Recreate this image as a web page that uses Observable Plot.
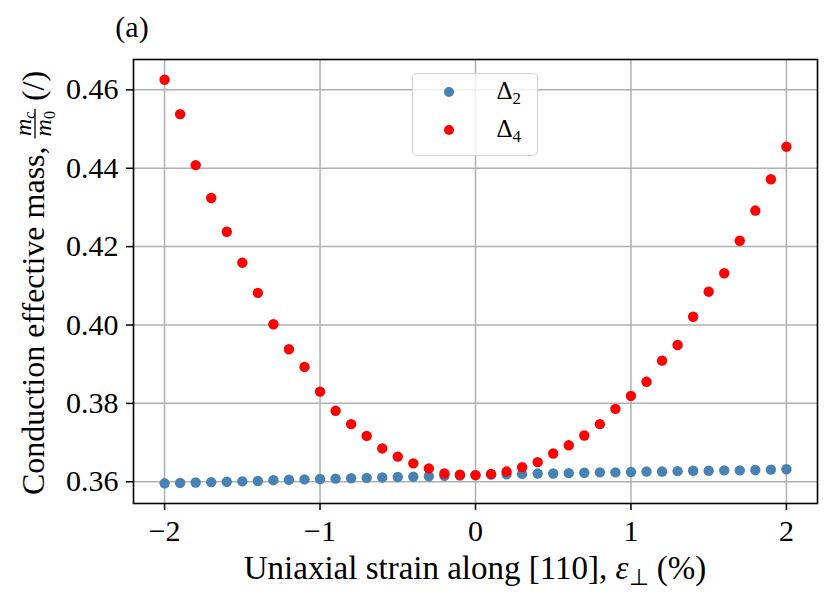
<!DOCTYPE html>
<html>
<head>
<meta charset="utf-8">
<script src="https://cdn.jsdelivr.net/npm/d3@7"></script>
<script src="https://cdn.jsdelivr.net/npm/@observablehq/plot@0.6"></script>
<style>
  html, body { margin: 0; padding: 0; background: white; }
  #wrap { position: relative; width: 831px; height: 603px; font-family: "Liberation Serif", serif; }
  #legend { position: absolute; left: 412px; top: 73px; width: 124px; height: 81px;
    border: 1.5px solid rgba(204,204,204,0.9); border-radius: 5px; background: rgba(255,255,255,0.8); }
  .lg-dot { position: absolute; width: 10px; height: 10px; border-radius: 50%; }
  .lg-txt { position: absolute; font-size: 25px; line-height: 1; color: #000; }
  .lg-txt sub { font-size: 17px; vertical-align: -5px; }
</style>
</head>
<body>
<div id="wrap"></div>
<script>
const strain = [-2.0,-1.9,-1.8,-1.7,-1.6,-1.5,-1.4,-1.3,-1.2,-1.1,-1.0,-0.9,-0.8,-0.7,-0.6,-0.5,-0.4,-0.3,-0.2,-0.1,
  0.0,0.1,0.2,0.3,0.4,0.5,0.6,0.7,0.8,0.9,1.0,1.1,1.2,1.3,1.4,1.5,1.6,1.7,1.8,1.9,2.0];
const delta2 = [0.3596,0.3597,0.3598,0.3599,0.3600,0.3601,0.3602,0.3604,0.3605,0.3606,0.3607,0.3608,0.3609,0.3610,0.3611,0.3612,0.3613,0.3614,0.3615,0.3616,
  0.3617,0.3618,0.3619,0.3620,0.3621,0.3621,0.3622,0.3623,0.3624,0.3624,0.3625,0.3626,0.3626,0.3627,0.3628,0.3628,0.3629,0.3629,0.3630,0.3631,0.3632];
const delta4 = [0.4626,0.4538,0.4408,0.4324,0.4238,0.4159,0.4082,0.4002,0.3938,0.3893,0.3830,0.3781,0.3747,0.3717,0.3685,0.3664,0.3647,0.3634,0.3621,0.3618,
  0.3617,0.3620,0.3626,0.3637,0.3650,0.3672,0.3693,0.3718,0.3747,0.3786,0.3819,0.3855,0.3909,0.3949,0.4021,0.4085,0.4132,0.4215,0.4292,0.4372,0.4455];
const xTicks = [-2, -1, 0, 1, 2];
const yTicks = [0.36, 0.38, 0.40, 0.42, 0.44, 0.46];
const seriesNames = ["Δ2", "Δ4"];
const seriesColors = ["#4682b4", "#ff0000"];

const rows2 = strain.map((x, i) => ({x, y: delta2[i]}));
const rows4 = strain.map((x, i) => ({x, y: delta4[i]}));

const fmtX = d => d < 0 ? "\u2212" + Math.abs(d) : String(d);

const chart = Plot.plot({
  width: 831,
  height: 603,
  marginLeft: 133,
  marginRight: 14,
  marginTop: 59,
  marginBottom: 100,
  style: {background: "white", color: "#000"},
  x: {domain: [-2.2, 2.2]},
  y: {domain: [0.35445, 0.46775]},
  marks: [
    Plot.gridX(xTicks, {stroke: "#b0b0b0", strokeOpacity: 1, strokeWidth: 1.5}),
    Plot.gridY(yTicks, {stroke: "#b0b0b0", strokeOpacity: 1, strokeWidth: 1.5}),
    Plot.dot(rows2, {x: "x", y: "y", r: 5.2, fill: seriesColors[0]}),
    Plot.dot(rows4, {x: "x", y: "y", r: 5.2, fill: seriesColors[1]}),
    Plot.frame({stroke: "#000", strokeWidth: 1.6}),
    Plot.axisX({ticks: xTicks, tickFormat: fmtX, tickSize: 7, tickPadding: 9, strokeWidth: 1.5, label: null, fontSize: 30}),
    Plot.axisY({ticks: yTicks, tickFormat: d3.format(".2f"), tickSize: 7, tickPadding: 8, strokeWidth: 1.5, label: null, fontSize: 30})
  ]
});

const wrap = document.getElementById("wrap");
wrap.appendChild(chart);

const svg = d3.select(chart);
const serif = "Liberation Serif";

// force serif fonts on all of Plot's text (tick labels)
svg.attr("font-family", serif).style("font-family", "'Liberation Serif', serif");
svg.selectAll("g[aria-label$='tick label']").attr("font-size", 30).style("font-size", "30px")
  .style("font-family", "'Liberation Serif', serif");
svg.selectAll("g[aria-label$='tick label'] text").style("font-family", "'Liberation Serif', serif").style("font-size", "30px");

// panel tag
svg.append("text").attr("x", 132).attr("y", 37).attr("text-anchor", "middle")
  .attr("font-family", serif).attr("font-size", 30).attr("fill", "#000").text("(a)");

// x label
const xl = svg.append("text").attr("x", 475).attr("y", 579).attr("text-anchor", "middle")
  .attr("font-family", serif).attr("font-size", 33).attr("fill", "#000");
xl.append("tspan").text("Uniaxial strain along [110], ");
xl.append("tspan").attr("font-style", "italic").text("ε");
xl.append("tspan").attr("font-size", 23).attr("dy", 6).text("⊥");
xl.append("tspan").attr("dy", -6).text(" (%)");

// y label (rotated, with fraction)
const yg = svg.append("g").attr("font-family", serif).attr("fill", "#000").attr("text-anchor", "start");
const t1 = yg.append("text").attr("text-anchor", "start").attr("font-size", 32).attr("x", 0).attr("y", 0).text("Conduction effective mass, ");
const L1 = t1.node().getComputedTextLength();
const fs = 24;
const num = yg.append("text").attr("text-anchor", "start").attr("font-size", fs).attr("y", -13);
num.append("tspan").attr("font-style", "italic").text("m");
num.append("tspan").attr("font-size", 16).attr("font-style", "italic").attr("dy", 4).text("c");
const den = yg.append("text").attr("text-anchor", "start").attr("font-size", fs).attr("y", 7);
den.append("tspan").attr("font-style", "italic").text("m");
den.append("tspan").attr("font-size", 16).attr("dy", 4).text("0");
const wN = num.node().getComputedTextLength();
const wD = den.node().getComputedTextLength();
const wF = Math.max(wN, wD) + 4;
num.attr("x", L1 + (wF - wN) / 2);
den.attr("x", L1 + (wF - wD) / 2);
yg.append("line").attr("x1", L1).attr("x2", L1 + wF).attr("y1", -9).attr("y2", -9)
  .attr("stroke", "#000").attr("stroke-width", 1.3);
const t3 = yg.append("text").attr("text-anchor", "start").attr("font-size", 32).attr("x", L1 + wF).attr("y", 0).text(" (/)");
const W = L1 + wF + t3.node().getComputedTextLength();
yg.attr("transform", `translate(44,${283 + W / 2}) rotate(-90)`);

// legend (HTML overlay)
const legend = document.createElement("div");
legend.id = "legend";
wrap.appendChild(legend);
seriesNames.forEach((name, i) => {
  const dot = document.createElement("div");
  dot.className = "lg-dot";
  dot.style.background = seriesColors[i];
  dot.style.left = (449 - 412 - 5 - 1.5) + "px";
  dot.style.top = (92 + i * 38 - 73 - 5 - 1.5) + "px";
  legend.appendChild(dot);
  const txt = document.createElement("div");
  txt.className = "lg-txt";
  txt.style.left = (497 - 412 - 1.5) + "px";
  txt.style.top = (92 + i * 38 - 73 - 15) + "px";
  txt.innerHTML = name[0] + "<sub>" + name.slice(1) + "</sub>";
  legend.appendChild(txt);
});
</script>
</body>
</html>
